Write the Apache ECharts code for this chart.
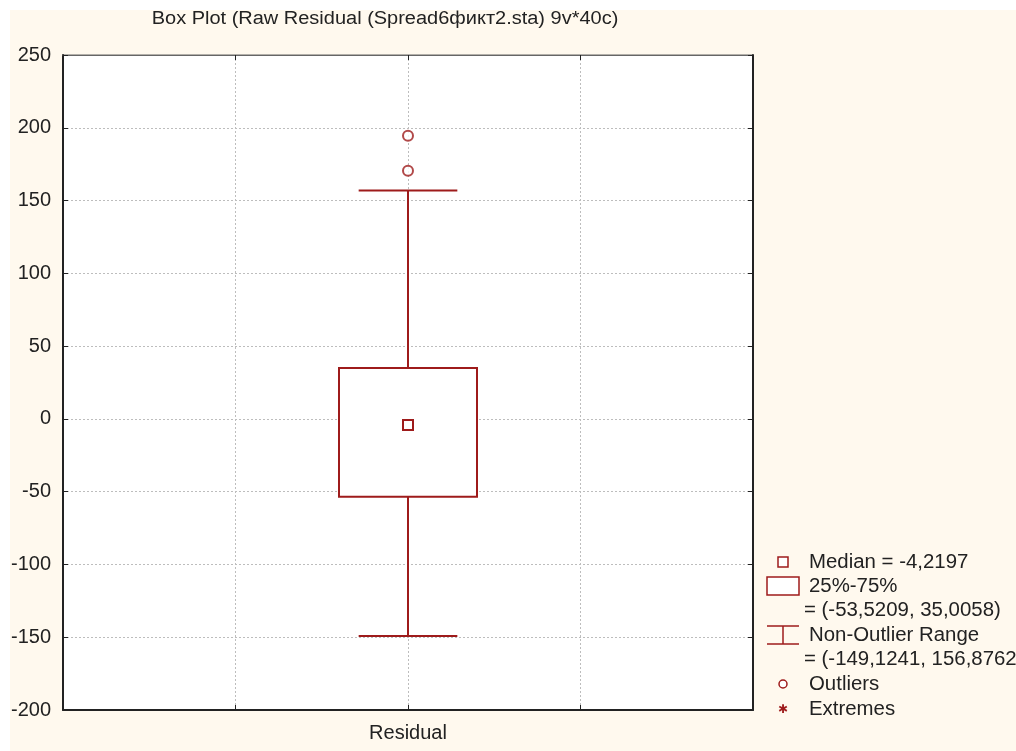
<!DOCTYPE html>
<html><head><meta charset="utf-8">
<script src="https://cdn.jsdelivr.net/npm/echarts@6/dist/echarts.min.js"></script>
<style>html,body{margin:0;padding:0;background:#fff;}#c{position:absolute;left:10px;top:10px;width:1006px;height:741px;}</style>
</head><body><div id="c"></div>
<script>
var categories = ['Residual'];
var medians = [-4.2197];
var q1s = [-53.5209];
var q3s = [35.0058];
var whiskerLows = [-149.1241];
var whiskerHighs = [156.8762];
var outlierValues = [170.5, 194.5];
var outlierCategory = [0, 0];
var yTicks = [-200, -150, -100, -50, 0, 50, 100, 150, 200, 250];

var RED = '#9E1B1B';
var FONT = 'Liberation Sans, Arial, sans-serif';

var boxData = categories.map(function (c, i) {
  return [i + 1, whiskerLows[i], q1s[i], medians[i], q3s[i], whiskerHighs[i]];
});
var outData = outlierValues.map(function (v, i) { return [outlierCategory[i] + 1, v]; });

var chart = echarts.init(document.getElementById('c'));
var legendX = 773; // div coords: icon center
var textX = 799;
var rows = [552, 576, 600, 625, 649, 674, 699];
function legText(x, y, t) {
  return { type: 'text', x: x, y: y, scaleX: 1.02, style: { text: t, fill: '#222', font: '20px ' + FONT, textVerticalAlign: 'middle' } };
}
chart.setOption({
  backgroundColor: '#FFF9EE',
  animation: false,
  grid: { left: 53, top: 45, right: 263, bottom: 41, show: true, outerBoundsMode: 'none', containLabel: false, backgroundColor: '#ffffff', borderColor: '#666', borderWidth: 1 },
  xAxis: [{
    type: 'value', min: 0, max: 2, interval: 0.5, position: 'bottom',
    axisLine: { show: true, onZero: false, lineStyle: { color: '#222', width: 2 } },
    axisTick: { show: true, inside: true, length: 5, lineStyle: { color: '#222' } },
    splitLine: { show: true, lineStyle: { type: [2, 2], color: '#BDBDBD' } },
    axisLabel: { margin: 13, fontSize: 20, color: '#222', fontFamily: FONT,
      formatter: function (v) { var i = Math.round(v) - 1; return (Math.abs(v - Math.round(v)) < 1e-6 && categories[i]) ? categories[i] : ''; } }
  }, {
    type: 'value', min: 0, max: 2, interval: 0.5, position: 'top',
    axisLine: { show: true, onZero: false, lineStyle: { color: '#666', width: 1 } },
    axisTick: { show: true, inside: true, length: 5, lineStyle: { color: '#222' } },
    splitLine: { show: false }, axisLabel: { show: false }
  }],
  yAxis: [{
    type: 'value', min: -200, max: 250, interval: 50, position: 'left',
    axisLine: { show: true, onZero: false, lineStyle: { color: '#222', width: 2 } },
    axisTick: { show: true, inside: true, length: 5, lineStyle: { color: '#222' } },
    splitLine: { show: true, lineStyle: { type: [2, 2], color: '#BDBDBD' } },
    axisLabel: { margin: 12, fontSize: 20, color: '#222', fontFamily: FONT,
      formatter: function (v) { return yTicks.indexOf(v) >= 0 ? String(v) : ''; } }
  }, {
    type: 'value', min: -200, max: 250, interval: 50, position: 'right',
    axisLine: { show: true, onZero: false, lineStyle: { color: '#222', width: 2 } },
    axisTick: { show: true, inside: true, length: 5, lineStyle: { color: '#222' } },
    splitLine: { show: false }, axisLabel: { show: false }
  }],
  series: [{
    type: 'custom',
    xAxisIndex: 0, yAxisIndex: 0,
    data: boxData,
    renderItem: function (params, api) {
      var x = api.value(0);
      var lo = api.coord([x, api.value(1)]);
      var q1 = api.coord([x, api.value(2)]);
      var md = api.coord([x, api.value(3)]);
      var q3 = api.coord([x, api.value(4)]);
      var hi = api.coord([x, api.value(5)]);
      var bl = api.coord([x - 0.2, 0])[0], br = api.coord([x + 0.2, 0])[0];
      var cl = api.coord([x - 0.143, 0])[0], cr = api.coord([x + 0.143, 0])[0];
      var st = { stroke: RED, lineWidth: 2, fill: null };
      return { type: 'group', children: [
        { type: 'line', shape: { x1: lo[0], y1: lo[1], x2: q1[0], y2: q1[1] }, style: st },
        { type: 'line', shape: { x1: q3[0], y1: q3[1], x2: hi[0], y2: hi[1] }, style: st },
        { type: 'line', shape: { x1: cl, y1: lo[1], x2: cr, y2: lo[1] }, style: st },
        { type: 'line', shape: { x1: cl, y1: hi[1], x2: cr, y2: hi[1] }, style: st },
        { type: 'rect', shape: { x: bl, y: q3[1], width: br - bl, height: q1[1] - q3[1] }, style: { stroke: RED, lineWidth: 2, fill: '#ffffff' } },
        { type: 'rect', shape: { x: md[0] - 5, y: md[1] - 5, width: 10, height: 10 }, style: { stroke: RED, lineWidth: 2, fill: '#ffffff' } }
      ] };
    }
  }, {
    type: 'scatter', xAxisIndex: 0, yAxisIndex: 0,
    data: outData, symbol: 'circle', symbolSize: 10,
    itemStyle: { color: '#ffffff', borderColor: RED, borderWidth: 2 }
  }],
  graphic: [
    { type: 'text', x: 375, y: 9, scaleX: 1.11, style: { text: 'Box Plot (Raw Residual (Spread6фикт2.sta) 9v*40c)', fill: '#222', font: '18px ' + FONT, textAlign: 'center', textVerticalAlign: 'middle' } },
    { type: 'rect', shape: { x: legendX - 5, y: rows[0] - 5, width: 10, height: 10 }, style: { stroke: RED, lineWidth: 1.5, fill: '#fff' } },
    { type: 'rect', shape: { x: legendX - 16, y: rows[1] - 9, width: 32, height: 18 }, style: { stroke: RED, lineWidth: 1.5, fill: '#fff' } },
    { type: 'line', shape: { x1: legendX - 16, y1: 616, x2: legendX + 16, y2: 616 }, style: { stroke: RED, lineWidth: 1.5 } },
    { type: 'line', shape: { x1: legendX - 16, y1: 634, x2: legendX + 16, y2: 634 }, style: { stroke: RED, lineWidth: 1.5 } },
    { type: 'line', shape: { x1: legendX, y1: 616, x2: legendX, y2: 634 }, style: { stroke: RED, lineWidth: 1.5 } },
    { type: 'circle', shape: { cx: legendX, cy: rows[5], r: 4 }, style: { stroke: RED, lineWidth: 1.5, fill: '#fff' } },
    { type: 'text', x: legendX, y: rows[6] + 1, style: { text: '✱', fill: RED, font: 'bold 12px DejaVu Sans', textAlign: 'center', textVerticalAlign: 'middle' } },
    legText(textX, rows[0], 'Median = -4,2197'),
    legText(textX, rows[1], '25%-75%'),
    legText(textX - 5, rows[2], '= (-53,5209, 35,0058)'),
    legText(textX, rows[3], 'Non-Outlier Range'),
    legText(textX - 5, rows[4], '= (-149,1241, 156,8762)'),
    legText(textX, rows[5], 'Outliers'),
    legText(textX, rows[6], 'Extremes')
  ]
});
</script></body></html>
